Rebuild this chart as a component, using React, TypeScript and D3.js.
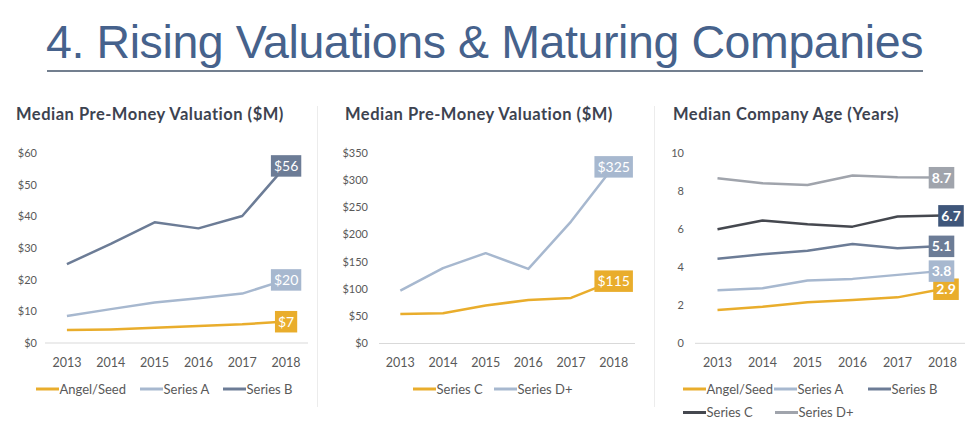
import React, { useEffect, useRef } from "react";
import * as d3 from "d3";

// ---------- data ----------
const years = ["2013", "2014", "2015", "2016", "2017", "2018"];

// Panel 1: Median pre-money valuation ($M)
const angelSeedValuation = [4.1, 4.3, 4.8, 5.4, 5.9, 6.8];
const seriesAValuation = [8.5, 10.7, 12.8, 14.1, 15.6, 20];
const seriesBValuation = [24.9, 31.3, 38.1, 36.2, 40.1, 56];
const panel1Ticks = [0, 10, 20, 30, 40, 50, 60];
const panel1Labels = ["$7", "$20", "$56"];

// Panel 2: Median pre-money valuation ($M)
const seriesCValuation = [54, 55.6, 69.7, 80, 83.8, 115];
const seriesDValuation = [97, 138.5, 166, 137, 224, 325];
const panel2Ticks = [0, 50, 100, 150, 200, 250, 300, 350];
const panel2Labels = ["$115", "$325"];

// Panel 3: Median company age (years)
const angelSeedAge = [1.75, 1.92, 2.15, 2.27, 2.41, 2.85];
const seriesAAge = [2.78, 2.89, 3.29, 3.38, 3.59, 3.8];
const seriesBAge = [4.43, 4.67, 4.85, 5.21, 4.99, 5.1];
const seriesCAge = [5.98, 6.44, 6.24, 6.12, 6.65, 6.7];
const seriesDAge = [8.66, 8.4, 8.31, 8.8, 8.71, 8.7];
const panel3Ticks = [0, 2, 4, 6, 8, 10];
const panel3Labels = ["2.9", "3.8", "5.1", "6.7", "8.7"];

const mainTitle = "4. Rising Valuations & Maturing Companies";

// ---------- styles ----------
const GOLD = "#E9AD2C";
const LIGHT_BLUE = "#A7B8CF";
const SLATE = "#6C7C96";
const CHARCOAL = "#45484F";
const GRAY = "#A0A4AC";
const NAVY = "#3F567A";
const TEXT = "#595959";
const TITLE_TEXT = "#3d4350";
const FONT = "Lato, 'Open Sans', sans-serif";

interface SeriesDef {
  name: string;
  values: number[];
  color: string;
  label: string;
  labelColor: string;
  labelDx: number;
}

interface PanelDef {
  title: string;
  titleX: number;
  plotLeft: number;
  plotRight: number;
  yTop: number;
  yBottom: number;
  yMax: number;
  ticks: number[];
  tickFormat: (v: number) => string;
  tickRight: number;
  labelBold: boolean;
  series: SeriesDef[];
  legendRows: { name: string; color: string; x: number; y: number }[];
}

const dollar = (v: number) => `$${v}`;

const panels: PanelDef[] = [
  {
    title: "Median Pre-Money Valuation ($M)",
    titleX: 16,
    plotLeft: 45,
    plotRight: 308,
    yTop: 153,
    yBottom: 343,
    yMax: 60,
    ticks: panel1Ticks,
    tickFormat: dollar,
    tickRight: 37,
    labelBold: false,
    series: [
      { name: "Angel/Seed", values: angelSeedValuation, color: GOLD, label: panel1Labels[0], labelColor: GOLD, labelDx: 0 },
      { name: "Series A", values: seriesAValuation, color: LIGHT_BLUE, label: panel1Labels[1], labelColor: LIGHT_BLUE, labelDx: 0 },
      { name: "Series B", values: seriesBValuation, color: SLATE, label: panel1Labels[2], labelColor: SLATE, labelDx: 0 },
    ],
    legendRows: [
      { name: "Angel/Seed", color: GOLD, x: 36, y: 389 },
      { name: "Series A", color: LIGHT_BLUE, x: 140, y: 389 },
      { name: "Series B", color: SLATE, x: 223, y: 389 },
    ],
  },
  {
    title: "Median Pre-Money Valuation ($M)",
    titleX: 345,
    plotLeft: 379,
    plotRight: 635,
    yTop: 153,
    yBottom: 343.5,
    yMax: 350,
    ticks: panel2Ticks,
    tickFormat: dollar,
    tickRight: 368,
    labelBold: false,
    series: [
      { name: "Series C", values: seriesCValuation, color: GOLD, label: panel2Labels[0], labelColor: GOLD, labelDx: 0 },
      { name: "Series D+", values: seriesDValuation, color: LIGHT_BLUE, label: panel2Labels[1], labelColor: LIGHT_BLUE, labelDx: 0 },
    ],
    legendRows: [
      { name: "Series C", color: GOLD, x: 413, y: 389 },
      { name: "Series D+", color: LIGHT_BLUE, x: 494, y: 389 },
    ],
  },
  {
    title: "Median Company Age (Years)",
    titleX: 673,
    plotLeft: 695,
    plotRight: 965,
    yTop: 152.7,
    yBottom: 343.3,
    yMax: 10,
    ticks: panel3Ticks,
    tickFormat: (v) => `${v}`,
    tickRight: 684,
    labelBold: true,
    series: [
      { name: "Angel/Seed", values: angelSeedAge, color: GOLD, label: panel3Labels[0], labelColor: GOLD, labelDx: 3.5 },
      { name: "Series A", values: seriesAAge, color: LIGHT_BLUE, label: panel3Labels[1], labelColor: LIGHT_BLUE, labelDx: -1 },
      { name: "Series B", values: seriesBAge, color: SLATE, label: panel3Labels[2], labelColor: SLATE, labelDx: -1 },
      { name: "Series C", values: seriesCAge, color: CHARCOAL, label: panel3Labels[3], labelColor: NAVY, labelDx: 8.5 },
      { name: "Series D+", values: seriesDAge, color: GRAY, label: panel3Labels[4], labelColor: GRAY, labelDx: -1 },
    ],
    legendRows: [
      { name: "Angel/Seed", color: GOLD, x: 683, y: 389 },
      { name: "Series A", color: LIGHT_BLUE, x: 774, y: 389 },
      { name: "Series B", color: SLATE, x: 868, y: 389 },
      { name: "Series C", color: CHARCOAL, x: 683, y: 412.5 },
      { name: "Series D+", color: GRAY, x: 775, y: 412.5 },
    ],
  },
];

export default function App() {
  const ref = useRef<SVGSVGElement | null>(null);

  useEffect(() => {
    const svg = d3.select(ref.current);
    svg.selectAll("*").remove();

    // main title
    svg
      .append("text")
      .attr("x", 46)
      .attr("y", 58)
      .attr("font-family", "'Liberation Sans', Arial, sans-serif")
      .attr("font-size", 46.5)
      .attr("letter-spacing", -0.4)
      .attr("fill", "#46628C")
      .text(mainTitle);
    svg
      .append("line")
      .attr("x1", 47)
      .attr("x2", 923)
      .attr("y1", 71)
      .attr("y2", 71)
      .attr("stroke", "#44546A")
      .attr("stroke-width", 1.3);

    // separators
    [317.5, 654.5].forEach((x) => {
      svg
        .append("line")
        .attr("x1", x)
        .attr("x2", x)
        .attr("y1", 106)
        .attr("y2", 407)
        .attr("stroke", "#ECECEC")
        .attr("stroke-width", 1);
    });

    panels.forEach((p) => {
      const g = svg.append("g");
      const x = d3.scaleBand<string>().domain(years).range([p.plotLeft, p.plotRight]);
      const cx = (d: string) => (x(d) as number) + x.bandwidth() / 2;
      const y = d3.scaleLinear().domain([0, p.yMax]).range([p.yBottom, p.yTop]);

      g.append("text")
        .attr("x", p.titleX)
        .attr("y", 119.5)
        .attr("font-family", FONT)
        .attr("font-weight", 700)
        .attr("font-size", 16.5)
        .attr("letter-spacing", 0.5)
        .attr("fill", TITLE_TEXT)
        .text(p.title);

      // y tick labels
      g.selectAll(".ytick")
        .data(p.ticks)
        .enter()
        .append("text")
        .attr("x", p.tickRight)
        .attr("y", (d) => y(d))
        .attr("dy", "0.35em")
        .attr("text-anchor", "end")
        .attr("font-family", FONT)
        .attr("font-size", 11)
        .attr("fill", TEXT)
        .text((d) => p.tickFormat(d));

      // baseline
      g.append("line")
        .attr("x1", p.plotLeft)
        .attr("x2", p.plotRight)
        .attr("y1", y(0))
        .attr("y2", y(0))
        .attr("stroke", "#D9D9D9")
        .attr("stroke-width", 1);

      // x labels
      g.selectAll(".xtick")
        .data(years)
        .enter()
        .append("text")
        .attr("x", (d) => cx(d))
        .attr("y", 367)
        .attr("text-anchor", "middle")
        .attr("font-family", FONT)
        .attr("font-size", 12.5)
        .attr("fill", TEXT)
        .text((d) => d);

      const line = d3
        .line<number>()
        .x((_, i) => cx(years[i]))
        .y((v) => y(v));

      p.series.forEach((s) => {
        g.append("path")
          .attr("d", line(s.values) as string)
          .attr("fill", "none")
          .attr("stroke", s.color)
          .attr("stroke-width", 2.5)
          .attr("stroke-linejoin", "round");
      });

      // data labels
      p.series.forEach((s) => {
        const last = s.values.length - 1;
        const lx = cx(years[last]) + s.labelDx;
        const ly = y(s.values[last]);
        const lg = g.append("g");
        const rect = lg.append("rect").attr("fill", s.labelColor);
        const t = lg
          .append("text")
          .attr("x", lx)
          .attr("y", ly)
          .attr("dy", "0.36em")
          .attr("text-anchor", "middle")
          .attr("font-family", FONT)
          .attr("font-weight", p.labelBold ? 700 : 400)
          .attr("font-size", 14)
          .attr("fill", "#FFFFFF")
          .text(s.label);
        const w = (t.node() as SVGTextElement).getComputedTextLength() + 6;
        rect
          .attr("x", lx - w / 2)
          .attr("y", ly - 10.5)
          .attr("width", w)
          .attr("height", 21.5);
      });

      // legend
      p.legendRows.forEach((l) => {
        g.append("line")
          .attr("x1", l.x)
          .attr("x2", l.x + 23)
          .attr("y1", l.y)
          .attr("y2", l.y)
          .attr("stroke", l.color)
          .attr("stroke-width", 3);
        g.append("text")
          .attr("x", l.x + 23.5)
          .attr("y", l.y)
          .attr("dy", "0.35em")
          .attr("font-family", FONT)
          .attr("font-size", 13)
          .attr("fill", TEXT)
          .text(l.name);
      });
    });
  }, []);

  return (
    <div style={{ position: "absolute", left: 0, top: 0 }}>
      <svg ref={ref} width={977} height={445} style={{ display: "block", background: "#FFFFFF" }} />
    </div>
  );
}
